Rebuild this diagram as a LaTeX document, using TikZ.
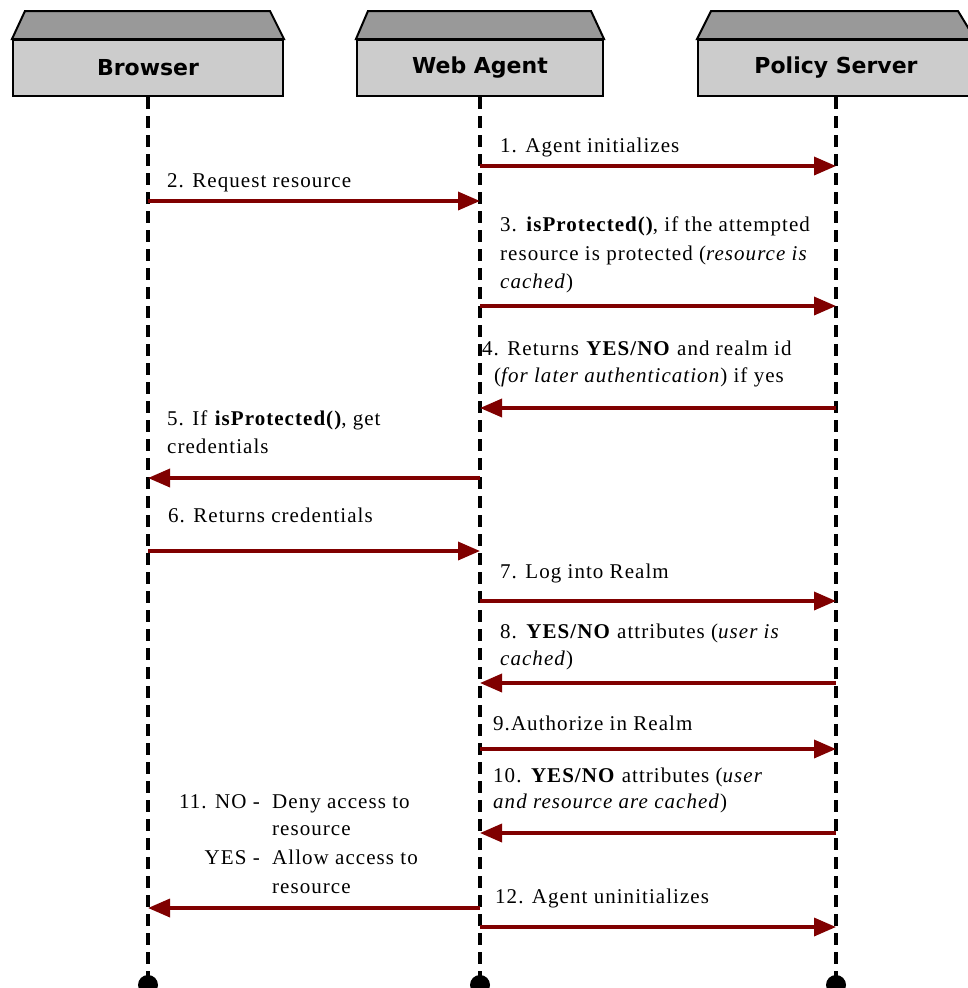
\documentclass[tikz,border=0pt]{standalone}
\usepackage{fontspec}
\setmainfont{Liberation Serif}[LetterSpace=5]
\newfontfamily\hdrfont{DejaVu Sans}[Scale=1.0]
\usetikzlibrary{arrows.meta,calc}
\definecolor{msgred}{RGB}{128,0,0}
\definecolor{topgray}{RGB}{153,153,153}
\definecolor{frontgray}{RGB}{204,204,204}
\tikzset{
  hdrbox/.style={draw=black, line width=2pt, fill=frontgray, inner sep=0pt,
    font=\hdrfont\bfseries\fontsize{22}{26}\selectfont},
  topface/.style={draw=black, line width=2pt, fill=topgray, line join=miter},
  lifeline/.style={draw=black, line width=3.5pt, dash pattern=on 12pt off 7pt},
  enddot/.style={circle, fill=black, minimum size=20pt, inner sep=0pt},
  msg/.style={draw=msgred, line width=3.5pt, -{Triangle[length=22pt,width=18pt]}},
  lbl/.style={anchor=base west, inner sep=0pt, font=\fontsize{21}{28}\selectfont},
  lblr/.style={anchor=base east, inner sep=0pt, font=\fontsize{21}{28}\selectfont}
}
\begin{document}
\begin{tikzpicture}[x=1pt,y=-1pt]
\useasboundingbox (0,0) rectangle (968,988);
% header boxes
\node[hdrbox, minimum width=270pt, minimum height=56pt] (browser) at (148,68) {Browser};
\node[hdrbox, minimum width=246pt, minimum height=56pt] (agent) at (480,68) {Web Agent};
\node[hdrbox, minimum width=276pt, minimum height=56pt] (policy) at (836,68) {Policy Server};
\draw[topface] (browser.north west) -- ($(browser.north west)+(13,-28)$) -- ($(browser.north east)+(-14,-28)$) -- (browser.north east) -- cycle;
\draw[topface] (agent.north west) -- ($(agent.north west)+(12,-28)$) -- ($(agent.north east)+(-13,-28)$) -- (agent.north east) -- cycle;
\draw[topface] (policy.north west) -- ($(policy.north west)+(14,-28)$) -- ($(policy.north east)+(-17,-28)$) -- (policy.north east) -- cycle;
% lifeline ends
\node[enddot] (bEnd) at (148,985) {};
\node[enddot] (wEnd) at (480,985) {};
\node[enddot] (pEnd) at (836,985) {};
\draw[lifeline] (browser.south) -- (bEnd.center);
\draw[lifeline] (agent.south) -- (wEnd.center);
\draw[lifeline] (policy.south) -- (pEnd.center);
% message end points
\foreach \n/\y in {1/166,2/201,3/306,4/408,5/478,6/551,7/601,8/683,9/749,10/833,11/908,12/927}{
  \coordinate (b\n) at (148,\y);
  \coordinate (w\n) at (480,\y);
  \coordinate (p\n) at (836,\y);
}
\draw[msg] (w1) -- (p1);
\draw[msg] (b2) -- (w2);
\draw[msg] (w3) -- (p3);
\draw[msg] (p4) -- (w4);
\draw[msg] (w5) -- (b5);
\draw[msg] (b6) -- (w6);
\draw[msg] (w7) -- (p7);
\draw[msg] (p8) -- (w8);
\draw[msg] (w9) -- (p9);
\draw[msg] (p10) -- (w10);
\draw[msg] (w11) -- (b11);
\draw[msg] (w12) -- (p12);
% labels
\node[lbl] (t1) at (500,152) {1. Agent initializes};
\node[lbl] (t2) at (167,187) {2. Request resource};
\node[lbl] (t3a) at (500,231) {3. \textbf{isProtected()}, if the attempted};
\node[lbl] (t3b) at (500,260) {resource is protected (\textit{resource is}};
\node[lbl] (t3c) at (500,288) {\textit{cached})};
\node[lbl] (t4a) at (482,355) {4. Returns \textbf{YES/NO} and realm id};
\node[lbl] (t4b) at (494,382) {(\textit{for later authentication}) if yes};
\node[lbl] (t5a) at (167,425) {5. If \textbf{isProtected()}, get};
\node[lbl] (t5b) at (167,453) {credentials};
\node[lbl] (t6) at (168,522) {6. Returns credentials};
\node[lbl] (t7) at (500,578) {7. Log into Realm};
\node[lbl] (t8a) at (500,638) {8. \textbf{YES/NO} attributes (\textit{user is}};
\node[lbl] (t8b) at (500,665) {\textit{cached})};
\node[lbl] (t9) at (493,730) {9.Authorize in Realm};
\node[lbl] (t10a) at (493,782) {10. \textbf{YES/NO} attributes (\textit{user}};
\node[lbl] (t10b) at (493,808) {\textit{and resource are cached})};
\node[lblr] (t11a) at (260,808) {11. NO -};
\node[lbl] (t11b) at (272,808) {Deny access to};
\node[lbl] (t11c) at (272,835) {resource};
\node[lblr] (t11d) at (260,864) {YES -};
\node[lbl] (t11e) at (272,864) {Allow access to};
\node[lbl] (t11f) at (272,893) {resource};
\node[lbl] (t12) at (495,903) {12. Agent uninitializes};
\end{tikzpicture}
\end{document}
